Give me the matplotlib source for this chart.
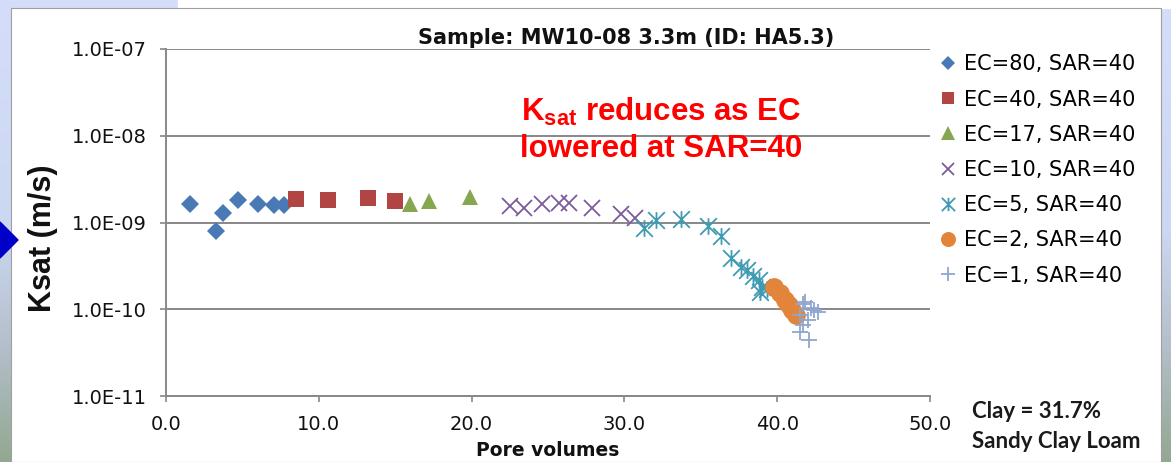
import matplotlib
matplotlib.use('Agg')
import matplotlib.pyplot as plt
import numpy as np
from matplotlib.path import Path
from matplotlib.patches import Rectangle, Polygon
from matplotlib.colors import LinearSegmentedColormap

plt.rcParams['font.family'] = ['DejaVu Sans']
plt.rcParams['mathtext.fontset'] = 'custom'
plt.rcParams['mathtext.rm'] = 'Liberation Sans'
plt.rcParams['mathtext.bf'] = 'Liberation Sans:bold'

# ---------------- data ----------------
ec80_x = [1.6, 3.3, 3.7, 4.7, 6.0, 7.1, 7.7]
ec80_y = [1.63e-9, 0.80e-9, 1.28e-9, 1.82e-9, 1.62e-9, 1.60e-9, 1.60e-9]
ec40_x = [8.5, 10.6, 13.2, 15.0]
ec40_y = [1.87e-9, 1.82e-9, 1.90e-9, 1.77e-9]
ec17_x = [16.0, 17.2, 19.9]
ec17_y = [1.62e-9, 1.78e-9, 1.95e-9]
ec10_x = [22.5, 23.4, 24.6, 25.7, 26.4, 27.9, 29.8, 30.7]
ec10_y = [1.55e-9, 1.46e-9, 1.63e-9, 1.66e-9, 1.70e-9, 1.46e-9, 1.25e-9, 1.13e-9]
ec5_x = [31.3, 32.1, 33.7, 35.5, 36.3, 37.0, 37.6, 38.0, 38.4, 38.8, 39.0, 38.9, 39.3]
ec5_y = [0.86e-9, 1.07e-9, 1.10e-9, 0.90e-9, 0.69e-9, 0.39e-9, 0.31e-9, 0.28e-9,
         0.24e-9, 0.22e-9, 0.18e-9, 0.16e-9, 0.17e-9]
ec2_x = [39.8, 40.2, 40.5, 40.75, 41.0, 41.2]
ec2_y = [1.82e-10, 1.55e-10, 1.28e-10, 1.12e-10, 0.98e-10, 0.86e-10]
ec1_x = [41.8, 41.7, 42.2, 42.4, 42.7, 41.5, 42.0, 41.7, 41.5, 42.1]
ec1_y = [1.22e-10, 1.15e-10, 1.03e-10, 0.98e-10, 0.94e-10, 0.86e-10, 0.75e-10,
         0.66e-10, 0.55e-10, 0.44e-10]

labels = ['EC=80, SAR=40', 'EC=40, SAR=40', 'EC=17, SAR=40', 'EC=10, SAR=40',
          'EC=5, SAR=40', 'EC=2, SAR=40', 'EC=1, SAR=40']
ytick_vals = [1e-11, 1e-10, 1e-9, 1e-8, 1e-7]
ytick_labels = ['1.0E-11', '1.0E-10', '1.0E-09', '1.0E-08', '1.0E-07']
xtick_vals = [0, 10, 20, 30, 40, 50]
xtick_labels = ['0.0', '10.0', '20.0', '30.0', '40.0', '50.0']

# ---------------- figure ----------------
W, H = 1171, 462
fig = plt.figure(figsize=(W / 100, H / 100), dpi=100)

# background (slide)
bg = fig.add_axes([0, 0, 1, 1], zorder=-10)
bg.set_xlim(0, W)
bg.set_ylim(H, 0)
bg.axis('off')
cmap = LinearSegmentedColormap.from_list(
    'slide', [(0, '#d4defa'), (0.5, '#ccd7f2'), (0.75, '#b3bfca'), (1.0, '#93a892')])
grad = np.linspace(0, 1, 256).reshape(-1, 1)
bg.imshow(grad, cmap=cmap, extent=[0, W, H, 0], aspect='auto', zorder=0)
bg.add_patch(Rectangle((178, 0), W - 178, 8, color='white', zorder=1))
bg.add_patch(Rectangle((11, 8), 1150, H - 8, facecolor='white', edgecolor='#a0a0a0',
                       linewidth=0.8, zorder=1))
bg.add_patch(Polygon([(0, 222), (18, 240), (0, 258)], closed=True,
                     color='#0000c8', zorder=2))

# main axes
x0, x1, ytop, ybot = 166, 930, 49, 396
ax = fig.add_axes([x0 / W, 1 - ybot / H, (x1 - x0) / W, (ybot - ytop) / H])
ax.set_facecolor('none')
ax.set_yscale('log')
ax.set_xlim(0, 50)
ax.set_ylim(1e-11, 1e-7)
ax.set_yticks(ytick_vals)
ax.set_yticklabels(ytick_labels)
ax.yaxis.set_minor_locator(matplotlib.ticker.NullLocator())
ax.set_xticks(xtick_vals)
ax.set_xticklabels(xtick_labels)
gcol = '#888888'
ax.grid(axis='y', color=gcol, linewidth=1.4)
ax.set_axisbelow(True)
for s in ['top', 'right']:
    ax.spines[s].set_visible(False)
for s in ['left', 'bottom']:
    ax.spines[s].set_color(gcol)
    ax.spines[s].set_linewidth(1.4)
ax.tick_params(axis='both', direction='out', length=4.5, width=1.2, color=gcol,
               labelsize=14, pad=9, labelcolor='#111111')

star = Path([(0, -1), (0, 1), (-1, -1), (1, 1), (-1, 1), (1, -1)],
            [Path.MOVETO, Path.LINETO] * 3)

series = [
    (ec80_x, ec80_y, dict(marker='D', ms=9, mfc='#4a7ab5', mec='#4a7ab5', mew=0)),
    (ec40_x, ec40_y, dict(marker='s', ms=11.5, mfc='#b04543', mec='#b04543', mew=0)),
    (ec17_x, ec17_y, dict(marker='^', ms=12, mfc='#86a650', mec='#86a650', mew=0)),
    (ec10_x, ec10_y, dict(marker='x', ms=11.5, mfc='none', mec='#7a5c9c', mew=1.3)),
    (ec5_x, ec5_y, dict(marker=star, ms=12, mfc='none', mec='#3f9bb3', mew=1.3)),
    (ec2_x, ec2_y, dict(marker='o', ms=13.5, mfc='#e2853a', mec='#e2853a', mew=0)),
    (ec1_x, ec1_y, dict(marker='+', ms=12, mfc='none', mec='#90a6cf', mew=1.3)),
]
handles = []
for (xs, ys, kw), lab in zip(series, labels):
    h, = ax.plot(xs, ys, linestyle='none', label=lab, clip_on=False, **kw)
    handles.append(h)

fig.legend(handles=handles, labels=labels, loc='upper left',
           bbox_to_anchor=(930 / W, 1 - 46 / H), frameon=False, fontsize=15,
           handlelength=0.9, handletextpad=0.35, labelspacing=0.73,
           markerscale=0.8, borderaxespad=0)

# titles and labels
fig.text(626 / W, 1 - 38 / H, 'Sample: MW10-08 3.3m (ID: HA5.3)', ha='center',
         va='center', fontsize=15, fontweight='bold', color='#111111')
fig.text(548 / W, 1 - 450 / H, 'Pore volumes', ha='center', va='center',
         fontsize=13.5, fontweight='bold', color='#111111')
fig.text(43 / W, 1 - 238 / H, 'Ksat (m/s)', ha='center', va='center', rotation=90,
         fontsize=22, fontweight='bold', family='Liberation Sans', color='#111111')

fig.text(661 / W, 1 - 112 / H, r'$\mathbf{K_{sat}}$ reduces as EC', ha='center',
         va='center', fontsize=22.5, fontweight='bold', family='Liberation Sans',
         color='#ff0000')
fig.text(661 / W, 1 - 149 / H, 'lowered at SAR=40', ha='center', va='center',
         fontsize=22.5, fontweight='bold', family='Liberation Sans', color='#ff0000')

fig.text(972 / W, 1 - 412 / H, 'Clay = 31.7%', ha='left', va='center',
         fontsize=16, fontweight='bold', family='Lato', color='#1a1a1a')
fig.text(972 / W, 1 - 442 / H, 'Sandy Clay Loam', ha='left', va='center',
         fontsize=16, fontweight='bold', family='Lato', color='#1a1a1a')

fig.savefig('out.png', dpi=100)
